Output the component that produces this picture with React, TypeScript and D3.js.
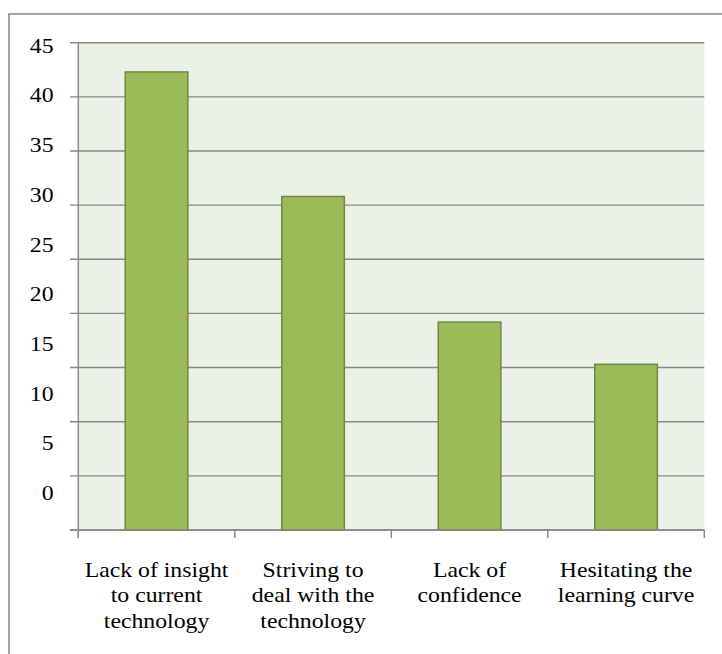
import React from "react";
import * as d3 from "d3";

// Survey barriers and their percentages
const categories: string[][] = [
  ["Lack of insight", "to current", "technology"],
  ["Striving to", "deal with the", "technology"],
  ["Lack of", "confidence"],
  ["Hesitating the", "learning curve"],
];
const values: number[] = [42.3, 30.8, 19.2, 15.3];
const tickValues: number[] = [0, 5, 10, 15, 20, 25, 30, 35, 40, 45];

const W = 722;
const H = 654;
const plot = { left: 78.3, right: 704.3, top: 42.7, bottom: 530 };
const font = "Liberation Serif, Times New Roman, serif";
const stretch = 1.08;

export default function App() {
  const x = d3
    .scaleBand<number>()
    .domain(d3.range(values.length))
    .range([plot.left, plot.right])
    .paddingInner(0.6)
    .paddingOuter(0.3);
  const y = d3.scaleLinear().domain([0, 45]).range([plot.bottom, plot.top]);
  // tick label baselines sit on their own spacing
  const yLabel = d3.scaleLinear().domain([0, 45]).range([500, 52.7]);

  const band = (plot.right - plot.left) / values.length;
  const catEdges = d3.range(values.length + 1).map((i) => plot.left + i * band);
  const grid = "#878787";

  return (
    <svg width={W} height={H} style={{ position: "absolute", left: 0, top: 0 }}>
      <rect width={W} height={H} fill="#ffffff" />
      {/* outer chart border */}
      <path d={`M9,${H + 2}V14H${W + 2}`} fill="none" stroke="#8a8a8a" strokeWidth={1.6} />
      {/* plot background */}
      <rect
        x={plot.left}
        y={plot.top}
        width={plot.right - plot.left}
        height={plot.bottom - plot.top}
        fill="#ECF1E7"
      />
      {/* gridlines with tick marks */}
      {tickValues.map((t) => (
        <line key={t} x1={70} x2={plot.right} y1={y(t)} y2={y(t)} stroke={grid} strokeWidth={1.4} />
      ))}
      {/* bars */}
      {values.map((v, i) => (
        <rect
          key={i}
          x={x(i)}
          y={y(v)}
          width={x.bandwidth()}
          height={y(0) - y(v)}
          fill="#9BBB59"
          stroke="#71893F"
          strokeWidth={1.5}
        />
      ))}
      {/* value axis */}
      <line x1={plot.left} x2={plot.left} y1={plot.top} y2={plot.bottom + 8} stroke={grid} strokeWidth={1.4} />
      <line x1={70} x2={plot.right} y1={plot.bottom} y2={plot.bottom} stroke={grid} strokeWidth={1.4} />
      {catEdges.map((cx, i) => (
        <line key={i} x1={cx} x2={cx} y1={plot.bottom} y2={plot.bottom + 8} stroke={grid} strokeWidth={1.4} />
      ))}
      {tickValues.map((t) => (
        <g key={t} transform={`translate(53.5,${yLabel(t)}) scale(${stretch},1)`}>
          <text textAnchor="end" fontSize={22} fill="#000" style={{ fontFamily: font }}>
            {t}
          </text>
        </g>
      ))}
      {/* category labels */}
      {categories.map((lines, i) => (
        <g key={i} transform={`translate(${x(i)! + x.bandwidth() / 2},577) scale(${stretch},1)`}>
          <text textAnchor="middle" fontSize={22} fill="#000" style={{ fontFamily: font }}>
            {lines.map((ln, j) => (
              <tspan key={j} x={0} y={j * 25.5}>
                {ln}
              </tspan>
            ))}
          </text>
        </g>
      ))}
    </svg>
  );
}
